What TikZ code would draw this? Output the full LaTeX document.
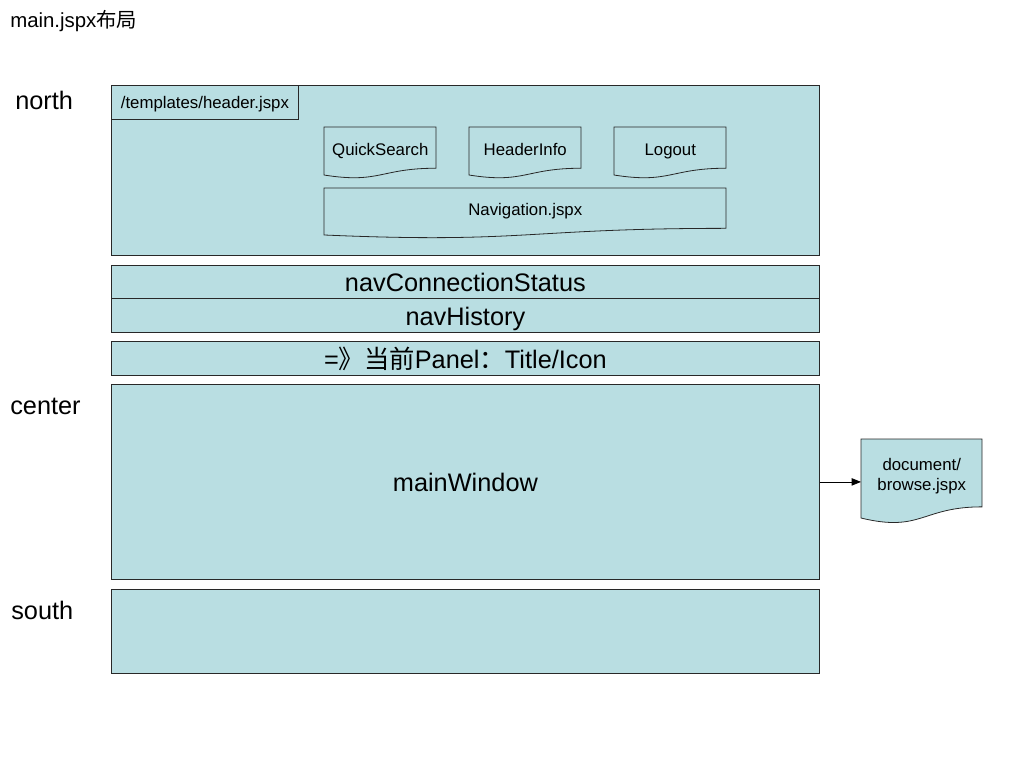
\documentclass[tikz,border=0pt]{standalone}
\usepackage{fontspec}
\setmainfont{Liberation Sans}
\newfontfamily\cjk{Noto Sans CJK SC}
\usetikzlibrary{arrows.meta}
\definecolor{boxfill}{RGB}{185,222,226}
\definecolor{boxline}{RGB}{40,40,40}
\newcommand\mydoc[7][]{%
  \draw[docline] ({#3+#5},#4) -- (#3,#4) -- (#3,{#4+0.934*#6})
    .. controls ({#3+#5/2},{#4+1.107*#6}) and ({#3+#5/2},{#4+0.802*#6}) .. ({#3+#5},{#4+0.802*#6}) -- cycle;
  \node[doctext, minimum width={#5*0.75pt}, minimum height={0.802*#6*0.75pt}, anchor=north west, #1] (#2) at (#3,#4) {#7};
}
\newcommand\mybox[6][]{%
  \node[panelbox, #1, minimum width={#4*0.75pt}, minimum height={#5*0.75pt}, anchor=north west] (#2) at #3 {#6};
}
\begin{document}
\begin{tikzpicture}[x=0.75pt,y=-0.75pt,
  panelbox/.style={draw=boxline, fill=boxfill, line width=0.6pt, inner sep=0pt, text height=15.5pt, text depth=1pt, font=\fontsize{19}{22}\selectfont},
  smallbox/.style={text height=10pt, text depth=1pt, font=\fontsize{12.6}{15}\selectfont},
  docline/.style={draw=boxline, fill=boxfill, line width=0.6pt},
  doctext/.style={inner sep=0pt, align=center, text height=12pt, text depth=1pt, font=\fontsize{12.6}{15.5}\selectfont},
  sidelabel/.style={anchor=west, inner sep=0pt, font=\fontsize{19}{22}\selectfont},
  arrowline/.style={draw=black, line width=0.6pt, -{Triangle[length=7pt,width=5.5pt]}}]
\useasboundingbox (0,0) rectangle (1024,768);

\node[anchor=west, inner sep=0pt, font=\fontsize{15.3}{18}\selectfont] (title) at (10,21) {main.jspx{\cjk 布局}};

\node[sidelabel] (lnorth) at (15,100) {north};
\node[sidelabel] (lcenter) at (10,406) {center};
\node[sidelabel] (lsouth) at (11,610) {south};

\mybox{north}{(111,85)}{708}{170}{};
\mybox[smallbox]{header}{(111,85)}{187}{34}{/templates/header.jspx};

\mydoc{qs}{324}{127}{112}{51.4}{QuickSearch}
\mydoc{hi}{469}{127}{112}{51.4}{HeaderInfo}
\mydoc{lo}{614}{127}{112}{51.4}{Logout}
\mydoc{nav}{324}{188}{402}{50.3}{Navigation.jspx}

\mybox{ncs}{(111,265)}{708}{33}{navConnectionStatus};
\mybox{nh}{(111,298)}{708}{34}{navHistory};
\mybox{panel}{(111,341)}{708}{34}{={\cjk 》当前}Panel{\cjk ：}Title/Icon};
\mybox{main}{(111,384)}{708}{195}{mainWindow};
\mybox{south}{(111,589)}{708}{84}{};

\mydoc[text height={}, text depth={}, yshift=-2.3pt]{doc}{861}{439}{121}{84.6}{document/\\browse.jspx}

\draw[arrowline] (main.east) -- (main.east -| doc.west);
\end{tikzpicture}
\end{document}
